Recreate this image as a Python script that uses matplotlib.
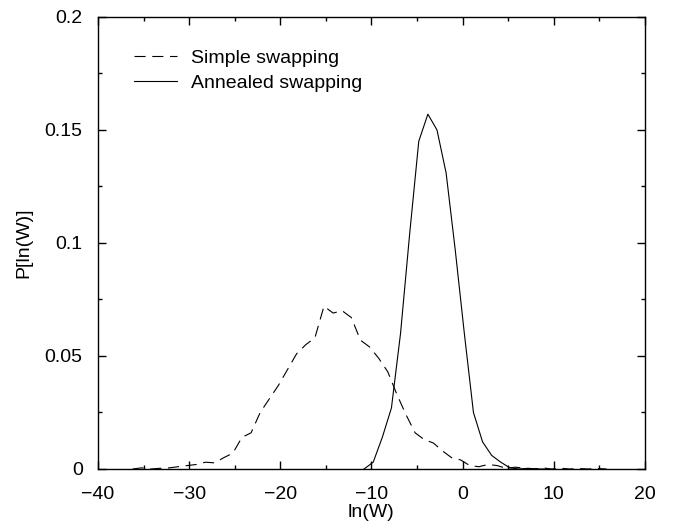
import matplotlib
matplotlib.use("Agg")
import matplotlib.pyplot as plt
from matplotlib.ticker import MultipleLocator, FuncFormatter

plt.rcParams['font.family'] = ['Liberation Sans', 'DejaVu Sans']

# Simple swapping (dashed)
x_simple = [-36.2, -35.2, -34.2, -33.2, -32.2, -31.2, -30.2, -29.2, -28.2, -27.2,
            -26.2, -25.2, -24.2, -23.2, -22.2, -21.2, -20.2, -19.2, -18.2, -17.2,
            -16.2, -15.2, -14.2, -13.2, -12.2, -11.2, -10.2, -9.2, -8.2, -7.2,
            -6.2, -5.2, -4.2, -3.2, -2.2, -1.2, -0.2, 0.8, 1.8, 2.8,
            3.8, 4.8, 5.8, 6.8, 7.8, 8.8, 9.8, 10.8, 11.8, 12.8, 13.8, 14.8, 15.8]
p_simple = [0.0, 0.0005, 0.0, 0.0003, 0.0005, 0.001, 0.0015, 0.002, 0.003, 0.0027,
            0.005, 0.007, 0.014, 0.016, 0.025, 0.031, 0.037, 0.044, 0.051, 0.055,
            0.058, 0.072, 0.069, 0.070, 0.067, 0.057, 0.054, 0.049, 0.043, 0.033,
            0.024, 0.016, 0.013, 0.0115, 0.008, 0.005, 0.004, 0.0015, 0.001, 0.002,
            0.0015, 0.0003, 0.0008, 0.0003, 0.0, 0.0005, 0.0, 0.0003, 0.0, 0.0002, 0.0, 0.0002, 0.0]

# Annealed swapping (solid)
x_anneal = [-10.8, -9.8, -8.8, -7.8, -6.8, -5.8, -4.8, -3.8, -2.8, -1.8,
            -0.8, 0.2, 1.2, 2.2, 3.2, 4.2, 5.2, 6.2, 7.2, 8.2, 9.2]
p_anneal = [0.0, 0.003, 0.014, 0.027, 0.060, 0.104, 0.145, 0.157, 0.150, 0.131,
            0.097, 0.060, 0.025, 0.012, 0.006, 0.003, 0.0005, 0.0, 0.0003, 0.0, 0.0]

fig = plt.figure(figsize=(6.78, 5.24), dpi=100)
ax = fig.add_axes([0.1445, 0.105, 0.8065, 0.8626])

ax.plot(x_simple, p_simple, color='black', lw=0.8, linestyle=(0, (10, 6)), label='Simple swapping')
ax.plot(x_anneal, p_anneal, color='black', lw=0.8, linestyle='-', label='Annealed swapping')

ax.set_xlim(-40, 20)
ax.set_ylim(0, 0.2)
ax.xaxis.set_major_locator(MultipleLocator(10))
ax.xaxis.set_minor_locator(MultipleLocator(5))
ax.yaxis.set_major_locator(MultipleLocator(0.05))
ax.yaxis.set_minor_locator(MultipleLocator(0.025))
ax.yaxis.set_major_formatter(FuncFormatter(lambda v, p: ('%g' % round(v, 3))))
ax.xaxis.set_major_formatter(FuncFormatter(lambda v, p: ('%d' % v).replace('-', '\u2212')))
ax.tick_params(which='both', direction='in', top=True, right=True, labelsize=14)
ax.tick_params(axis='x', which='major', pad=12)
ax.tick_params(axis='y', which='major', pad=11)
ax.tick_params(which='major', length=6, width=1)
ax.tick_params(which='minor', length=3, width=1)
for s in ax.spines.values():
    s.set_linewidth(1)

ax.set_xlabel('ln(W)', fontsize=14, labelpad=1)
ax.set_ylabel('P[ln(W)]', fontsize=14, labelpad=9)

leg = ax.legend(loc='upper left', bbox_to_anchor=(0.066, 0.929), frameon=False, fontsize=14,
                handlelength=2.2, handletextpad=0.75, labelspacing=0.4, borderaxespad=0,
                borderpad=0)

fig.savefig('out.png', dpi=100)
